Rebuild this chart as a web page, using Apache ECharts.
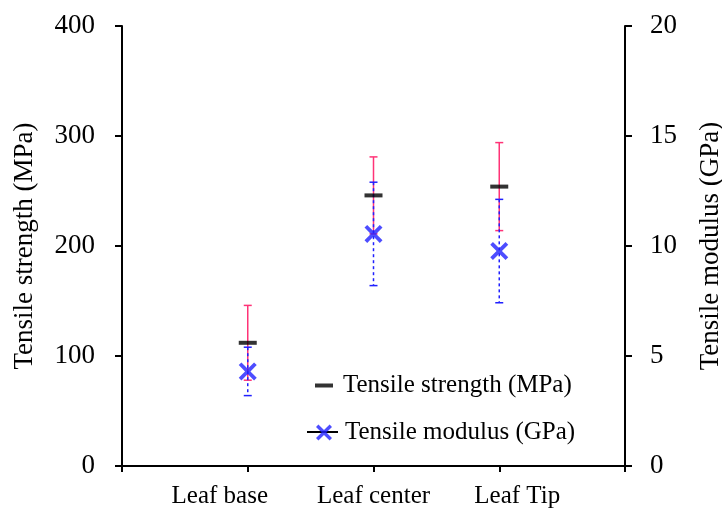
<!DOCTYPE html>
<html>
<head>
<meta charset="utf-8">
<script src="https://cdn.jsdelivr.net/npm/echarts@6/dist/echarts.min.js"></script>
<style>html,body{margin:0;padding:0;background:#fff}#c{width:722px;height:511px}</style>
</head>
<body>
<div id="c"></div>
<script>
// ---- data ----
const categories = ['Leaf base', 'Leaf center', 'Leaf Tip'];
const strengthMean = [112, 246, 254];   // MPa
const strengthErr  = [34, 35, 40];      // MPa
const modulusMean  = [4.3, 10.55, 9.77]; // GPa
const modulusErr   = [1.1, 2.35, 2.35];  // GPa
const leftTicks  = [0, 100, 200, 300, 400];
const rightTicks = [0, 5, 10, 15, 20];

const FONT = '"Liberation Serif", "Times New Roman", serif';
const PINK = '#ff3377';
const BLUE = '#2020ff';
const axisCats = [''].concat(categories, ['']);
const X_PATH = 'path://M0,1.5L1.5,0L5,3.5L8.5,0L10,1.5L6.5,5L10,8.5L8.5,10L5,6.5L1.5,10L0,8.5L3.5,5Z';

function errRender(color, dash, width) {
  return function (params, api) {
    const x = api.value(0), lo = api.value(1), hi = api.value(2);
    const pHi = api.coord([x, hi]);
    const pLo = api.coord([x, lo]);
    const hw = 4;
    const st = { stroke: color, lineWidth: width, lineDash: dash, fill: null };
    const capSt = { stroke: color, lineWidth: width, fill: null };
    return {
      type: 'group',
      children: [
        { type: 'line', shape: { x1: pHi[0], y1: pHi[1], x2: pLo[0], y2: pLo[1] }, style: st },
        { type: 'line', shape: { x1: pHi[0] - hw, y1: pHi[1], x2: pHi[0] + hw, y2: pHi[1] }, style: capSt },
        { type: 'line', shape: { x1: pLo[0] - hw, y1: pLo[1], x2: pLo[0] + hw, y2: pLo[1] }, style: capSt }
      ]
    };
  };
}

const CAT_FS = 25;
const labelRich = {
  a: { fontFamily: FONT, fontSize: CAT_FS, color: '#000', padding: [0, 56, 0, 0] },
  b: { fontFamily: FONT, fontSize: CAT_FS, color: '#000' },
  c: { fontFamily: FONT, fontSize: CAT_FS, color: '#000', padding: [0, 0, 0, 36] }
};
const richKey = { 'Leaf base': 'a', 'Leaf center': 'b', 'Leaf Tip': 'c' };

const chart = echarts.init(document.getElementById('c'), null, { renderer: 'canvas' });
chart.setOption({
  animation: false,
  backgroundColor: '#fff',
  grid: { left: 122, right: 97, top: 26, bottom: 45, containLabel: false, outerBoundsMode: 'none' },
  xAxis: {
    type: 'category',
    data: axisCats,
    boundaryGap: false,
    axisLine: { show: true, lineStyle: { color: '#000', width: 2 } },
    axisTick: { show: true, inside: false, length: 6, lineStyle: { color: '#000', width: 2 } },
    axisLabel: {
      interval: 0, margin: 18, color: '#000', fontFamily: FONT, fontSize: CAT_FS,
      formatter: v => v ? '{' + richKey[v] + '|' + v + '}' : '',
      rich: labelRich
    },
    splitLine: { show: false }
  },
  yAxis: [
    {
      type: 'value', min: leftTicks[0], max: leftTicks[leftTicks.length - 1], interval: 100,
      position: 'left',
      name: 'Tensile strength (MPa)', nameLocation: 'middle', nameGap: 84,
      nameTextStyle: { fontFamily: FONT, fontSize: 27, color: '#000' },
      axisLine: { show: true, lineStyle: { color: '#000', width: 2 } },
      axisTick: { show: true, inside: false, length: 7, lineStyle: { color: '#000', width: 2 } },
      axisLabel: { margin: 27, color: '#000', fontFamily: FONT, fontSize: 27 },
      splitLine: { show: false }
    },
    {
      type: 'value', min: rightTicks[0], max: rightTicks[rightTicks.length - 1], interval: 5,
      position: 'right',
      name: 'Tensile modulus (GPa)', nameLocation: 'middle', nameGap: 72,
      nameTextStyle: { fontFamily: FONT, fontSize: 27, color: '#000' },
      axisLine: { show: true, lineStyle: { color: '#000', width: 2 } },
      axisTick: { show: true, inside: false, length: 7, lineStyle: { color: '#000', width: 2 } },
      axisLabel: { margin: 25, color: '#000', fontFamily: FONT, fontSize: 27 },
      splitLine: { show: false }
    }
  ],
  legend: [
    {
      data: ['Tensile strength (MPa)'], orient: 'vertical', left: 315, top: 373, padding: 0,
      icon: 'rect', itemWidth: 18, itemHeight: 4,
      textStyle: { fontFamily: FONT, fontSize: 25, color: '#000', padding: [0, 0, 0, 5], lineHeight: 24 }
    },
    {
      data: ['Tensile modulus (GPa)'], orient: 'vertical', left: 316, top: 420, padding: 0,
      icon: X_PATH, itemWidth: 16, itemHeight: 16,
      textStyle: { fontFamily: FONT, fontSize: 25, color: '#000', padding: [0, 0, 0, 8], lineHeight: 24 }
    }
  ],
  graphic: [
    { type: 'line', z: 1, shape: { x1: 307, y1: 432, x2: 338, y2: 432 }, style: { stroke: '#000', lineWidth: 2 } }
  ],
  series: [
    {
      type: 'custom', name: 'strength-err', yAxisIndex: 0, z: 2, silent: true,
      renderItem: errRender(PINK, null, 1.5),
      encode: { x: 0, y: [1, 2] },
      data: categories.map((c, i) => [c, strengthMean[i] - strengthErr[i], strengthMean[i] + strengthErr[i]])
    },
    {
      type: 'custom', name: 'modulus-err', yAxisIndex: 1, z: 3, silent: true,
      renderItem: errRender(BLUE, [3, 3], 1.5),
      encode: { x: 0, y: [1, 2] },
      data: categories.map((c, i) => [c, modulusMean[i] - modulusErr[i], modulusMean[i] + modulusErr[i]])
    },
    {
      type: 'scatter', name: 'Tensile strength (MPa)', yAxisIndex: 0, z: 5,
      symbol: 'rect', symbolSize: [18, 4],
      itemStyle: { color: '#000' },
      data: categories.map((c, i) => [c, strengthMean[i]])
    },
    {
      type: 'scatter', name: 'Tensile modulus (GPa)', yAxisIndex: 1, z: 5,
      symbol: X_PATH, symbolSize: 18,
      itemStyle: { color: BLUE },
      data: categories.map((c, i) => [c, modulusMean[i]])
    }
  ]
});
</script>
</body>
</html>
